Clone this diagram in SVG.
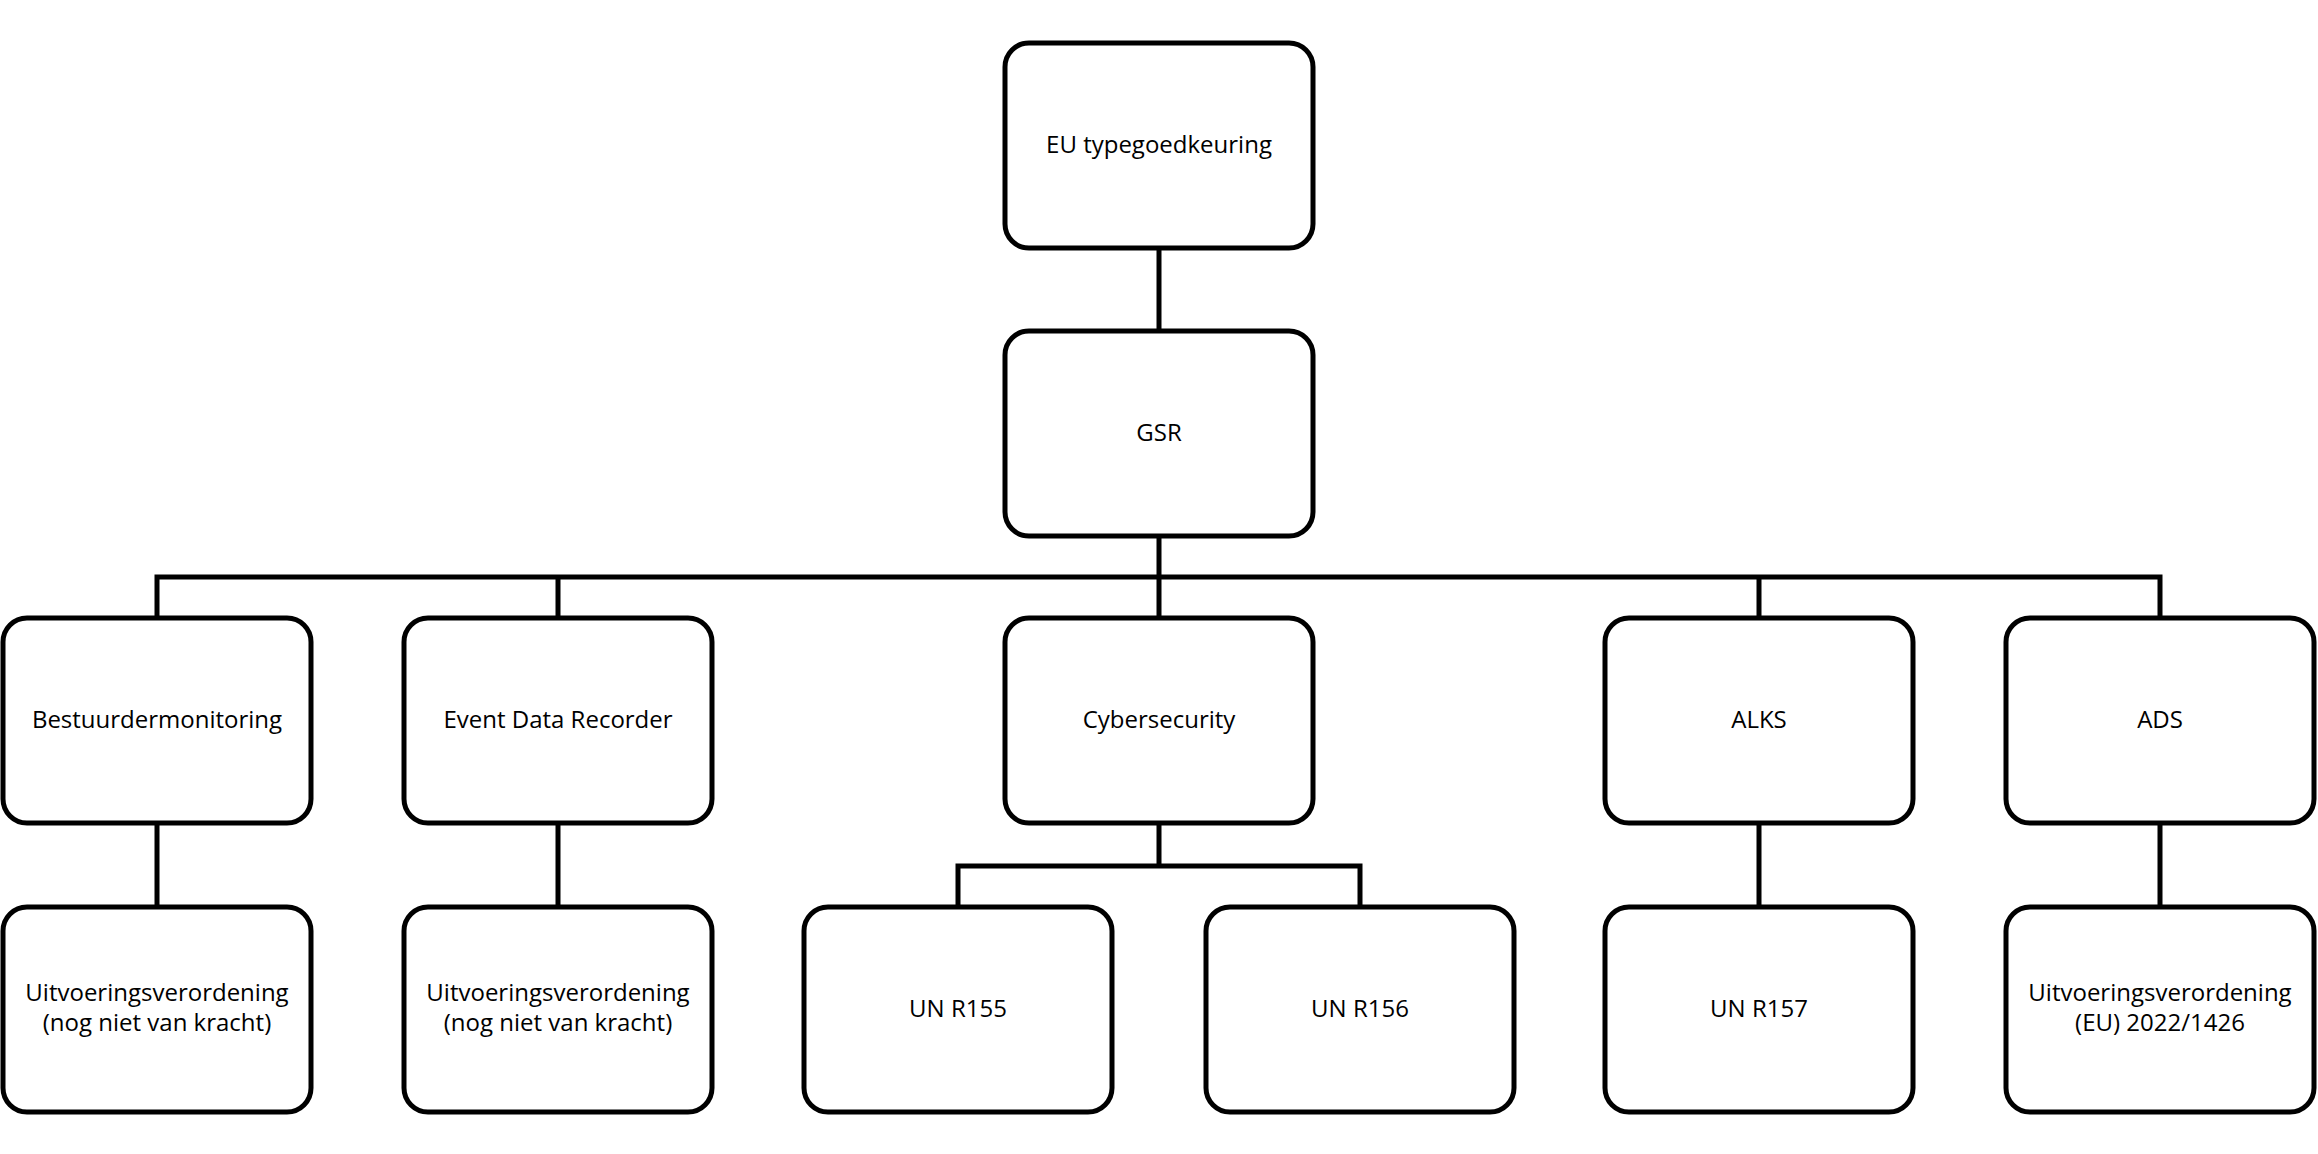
<svg xmlns="http://www.w3.org/2000/svg" width="2318" height="1154" viewBox="0 0 2318 1154">
<style>
.box{fill:#fff;stroke:#000;stroke-width:5}
.lbl{font-family:"Open Sans","Liberation Sans",sans-serif;font-size:24px;fill:#000;text-anchor:middle}
.conn{fill:none;stroke:#000;stroke-width:5}
</style>
<rect width="2318" height="1154" fill="#fff"/>
<g id="connectors">
<path class="conn" d="M1159 248V331"/>
<path class="conn" d="M1159 535V577M157 618V577H2160V618M558 577V618M1159 577V618M1759 577V618"/>
<path class="conn" d="M157 823V907M558 823V907M1759 823V907M2160 823V907"/>
<path class="conn" d="M1159 823V866M958 907V866H1360V907"/>
</g>
<g id="eu"><rect class="box" x="1005" y="43" width="308" height="205" rx="24"/><text class="lbl" x="1159" y="153">EU typegoedkeuring</text></g>
<g id="gsr"><rect class="box" x="1005" y="331" width="308" height="205" rx="24"/><text class="lbl" x="1159" y="441">GSR</text></g>
<g id="bestuurder"><rect class="box" x="3" y="618" width="308" height="205" rx="24"/><text class="lbl" x="157" y="728">Bestuurdermonitoring</text></g>
<g id="edr"><rect class="box" x="404" y="618" width="308" height="205" rx="24"/><text class="lbl" x="558" y="728">Event Data Recorder</text></g>
<g id="cyber"><rect class="box" x="1005" y="618" width="308" height="205" rx="24"/><text class="lbl" x="1159" y="728">Cybersecurity</text></g>
<g id="alks"><rect class="box" x="1605" y="618" width="308" height="205" rx="24"/><text class="lbl" x="1759" y="728">ALKS</text></g>
<g id="ads"><rect class="box" x="2006" y="618" width="308" height="205" rx="24"/><text class="lbl" x="2160" y="728">ADS</text></g>
<g id="uv1"><rect class="box" x="3" y="907" width="308" height="205" rx="24"/><text class="lbl" x="157" y="1001">Uitvoeringsverordening</text><text class="lbl" x="157" y="1031">(nog niet van kracht)</text></g>
<g id="uv2"><rect class="box" x="404" y="907" width="308" height="205" rx="24"/><text class="lbl" x="558" y="1001">Uitvoeringsverordening</text><text class="lbl" x="558" y="1031">(nog niet van kracht)</text></g>
<g id="r155"><rect class="box" x="804" y="907" width="308" height="205" rx="24"/><text class="lbl" x="958" y="1017">UN R155</text></g>
<g id="r156"><rect class="box" x="1206" y="907" width="308" height="205" rx="24"/><text class="lbl" x="1360" y="1017">UN R156</text></g>
<g id="r157"><rect class="box" x="1605" y="907" width="308" height="205" rx="24"/><text class="lbl" x="1759" y="1017">UN R157</text></g>
<g id="uv3"><rect class="box" x="2006" y="907" width="308" height="205" rx="24"/><text class="lbl" x="2160" y="1001">Uitvoeringsverordening</text><text class="lbl" x="2160" y="1031">(EU) 2022/1426</text></g>
</svg>
